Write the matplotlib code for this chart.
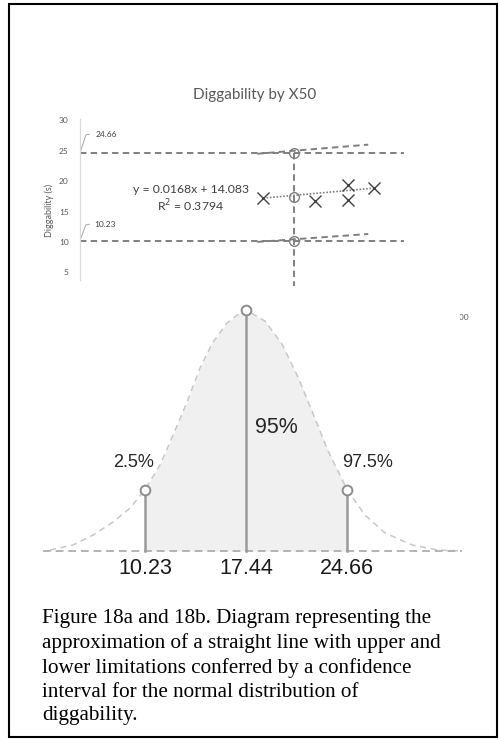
import matplotlib
matplotlib.use('Agg')
import matplotlib.pyplot as plt
from matplotlib.patches import Rectangle

W, H = 500, 740

# --- top chart (Diggability by X50) ---
limits = [24.66, 17.44, 10.23]          # upper, mean, lower
limit_x = 200                           # X50 where the limits are marked
obs_x = [163, 225, 264, 264, 295]
obs_y = [17.2, 16.7, 19.3, 16.9, 18.85]
trend_x = [163, 295]
trend_y = [17.2, 18.85]
upper_x = [156, 288]
upper_y = [24.5, 26.0]
lower_x = [156, 288]
lower_y = [10.0, 11.3]
y_ticks = [5, 10, 15, 20, 25, 30]
x_ticks = [0, 100, 200, 300, 400]

# --- bottom diagram (normal distribution) ---
curve_x = [3.44, 5.08, 6.51, 7.94, 9.16, 10.23, 11.30, 12.23, 13.23, 14.15,
           15.08, 16.08, 17.01, 17.44, 18.80, 20.01, 21.15, 22.15, 23.30,
           24.66, 25.94, 27.37, 29.30, 31.15, 32.87]
curve_h = [0.004, 0.025, 0.066, 0.120, 0.178, 0.255, 0.357, 0.481, 0.618, 0.759,
           0.866, 0.946, 0.988, 1.0, 0.954, 0.859, 0.722, 0.581, 0.415,
           0.255, 0.149, 0.075, 0.025, 0.004, 0.0]
marks = [10.23, 17.44, 24.66]
mark_h = [0.255, 1.0, 0.255]
pct_labels = ['2.5%', '95%', '97.5%']

caption = ("Figure 18a and 18b. Diagram representing the\n"
           "approximation of a straight line with upper and\n"
           "lower limitations conferred by a confidence\n"
           "interval for the normal distribution of\n"
           "diggability.")


def fx(px):
    return px / W


def fy(py):
    return 1 - py / H


fig = plt.figure(figsize=(W / 100, H / 100), dpi=100)

grey = '#7f7f7f'
txt = '#595959'
xl_font = 'Lato'

# top chart axes: y=30.3 at px 118.5, 6.08 px per unit
ax = fig.add_axes([fx(80), fy(302.7), fx(480) - fx(80), (302.7 - 118.5) / H])
ax.set_xlim(-55, 421)
ax.set_ylim(0, 30.3)
for s in ['top', 'right', 'bottom']:
    ax.spines[s].set_visible(False)
ax.spines['left'].set_color('#d9d9d9')
ax.spines['left'].set_bounds(3.7, 30.3)
ax.set_yticks(y_ticks)
ax.set_xticks(x_ticks)
ax.tick_params(length=0, labelsize=6, labelcolor=txt, pad=8)
for lab in ax.get_yticklabels() + ax.get_xticklabels():
    lab.set_fontfamily(xl_font)
ax.set_ylabel('Diggability (s)', fontsize=6.5, color=txt, family=xl_font, labelpad=4)

dash = (0, (3.3, 2.2))
for v in (limits[0], limits[2]):
    ax.plot([-55, 330], [v, v], color=grey, lw=1.4, ls=dash)
ax.plot([limit_x, limit_x], [limits[0], 2.8], color=grey, lw=1.4, ls=dash)
ax.plot(upper_x, upper_y, color=grey, lw=1.4, ls=dash)
ax.plot(lower_x, lower_y, color=grey, lw=1.4, ls=dash)
ax.plot(trend_x, trend_y, color='#808080', lw=1.2, ls=(0, (1, 1)))
ax.plot(obs_x, obs_y, 'x', color='#404040', ms=8.5, mew=1.0)
ax.plot([limit_x] * 3, limits, 'o', mfc='none', mec=grey, ms=7, mew=1.0)

# leader lines and data labels
ax.plot([-55, -48, -44], [limits[0], 27.6, 27.7], color='#a6a6a6', lw=0.7)
ax.text(-36, 27.7, f'{limits[0]:.2f}', fontsize=6, color='#404040',
        family=xl_font, va='center')
ax.plot([-55, -48, -44], [limits[2], 12.8, 12.9], color='#a6a6a6', lw=0.7)
ax.text(-38, 12.9, f'{limits[2]:.2f}', fontsize=6, color='#404040',
        family=xl_font, va='center')

ax.text(77, 18.7, 'y = 0.0168x + 14.083', fontsize=8.8, color='#404040',
        family=xl_font, ha='center', va='center')
ax.text(77, 15.9, 'R$^2$ = 0.3794', fontsize=8.8, color='#404040',
        family=xl_font, ha='center', va='center')

fig.text(fx(255), fy(95), 'Diggability by X50', fontsize=11, color=txt,
         family=xl_font, ha='center', va='center')

# bottom diagram axes (white, laid over the lower part of the top chart)
ax2 = fig.add_axes([fx(10), fy(580), fx(460) - fx(10), (580 - 288) / H])
ax2.set_facecolor('white')
ax2.set_xlim(17.44 - 236 / 14, 17.44 + 214 / 14)
ax2.set_ylim(-29 / 241, 263 / 241)
ax2.set_xticks([])
ax2.set_yticks([])
for s in ax2.spines.values():
    s.set_visible(False)

inside = [10.23 <= x <= 24.66 for x in curve_x]
ax2.fill_between(curve_x, 0, curve_h, where=inside, color='#f0f0f0', lw=0)
ax2.plot(curve_x, curve_h, color='#c8c8c8', lw=1.1, ls=(0, (4, 3)))
ax2.plot([2.94, 32.9], [0, 0], color='#b3b3b3', lw=1.4, ls=(0, (4, 2.5)),
         clip_on=False)
for x, h in zip(marks, mark_h):
    ax2.plot([x, x], [0, h], color='#9a9a9a', lw=1.8)
ax2.plot(marks, mark_h, 'o', mfc='white', mec='#8c8c8c', ms=7, mew=1.4)
for x in marks:
    ax2.text(x, -0.071, f'{x:.2f}', fontsize=15.5, color='#1a1a1a',
             family='Liberation Sans', ha='center', va='center')

ax2.text(marks[0] - 0.85, 0.368, pct_labels[0], fontsize=13, color='#262626',
         family='Liberation Sans', ha='center', va='center')
ax2.text(marks[1] + 0.65, 0.514, pct_labels[1], fontsize=15.5, color='#262626',
         family='Liberation Sans', ha='left', va='center')
ax2.text(marks[2] + 1.45, 0.368, pct_labels[2], fontsize=13, color='#262626',
         family='Liberation Sans', ha='center', va='center')

# caption
fig.text(fx(42), fy(609), caption, fontsize=15.2, family='Liberation Serif',
         color='black', ha='left', va='top', linespacing=1.34)

# outer frame
fig.patches.append(Rectangle((fx(9), fy(737)), fx(497) - fx(9), fy(4) - fy(737),
                             transform=fig.transFigure, fill=False,
                             edgecolor='black', lw=1.5))

fig.savefig('out.png', dpi=100)
